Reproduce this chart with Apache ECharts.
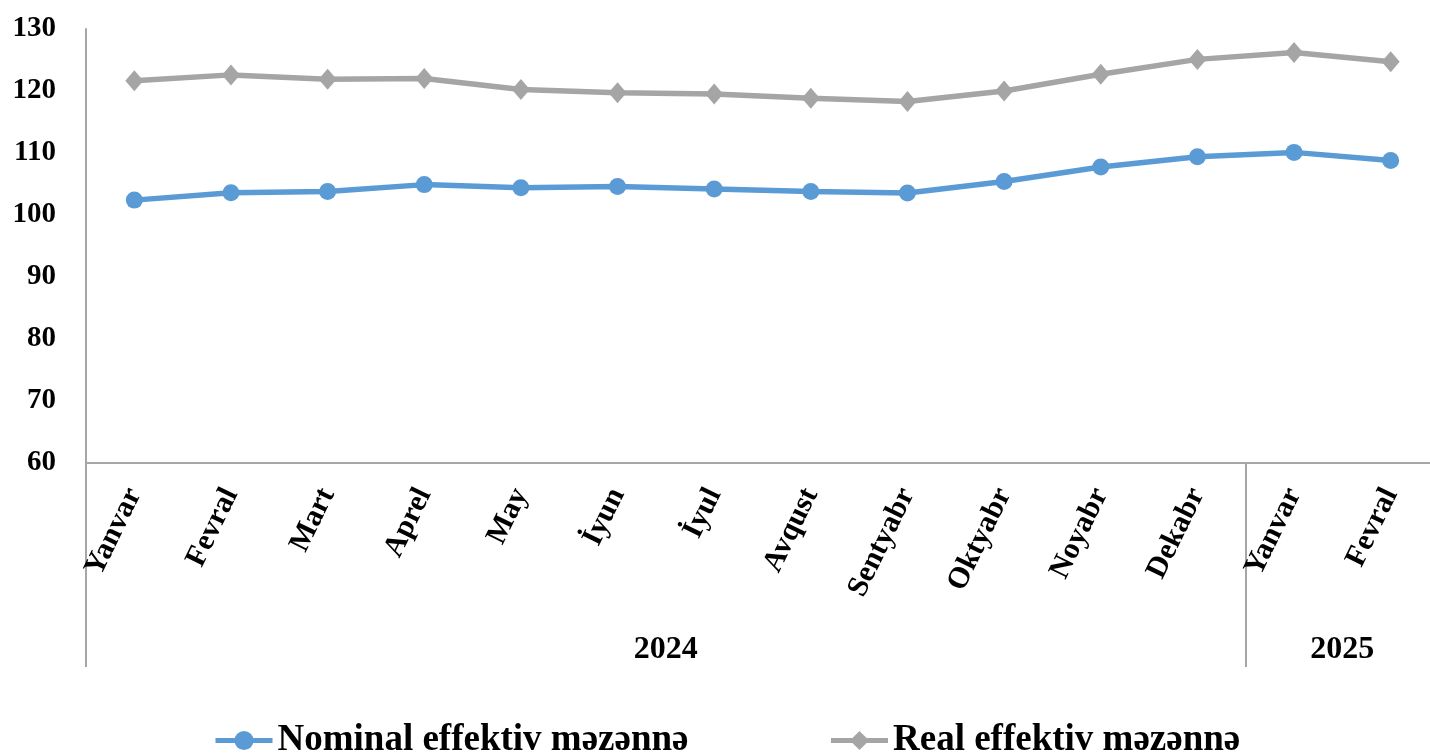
<!DOCTYPE html>
<html>
<head>
<meta charset="utf-8">
<script src="https://cdn.jsdelivr.net/npm/echarts@6/dist/echarts.min.js"></script>
<style>
  html, body { margin: 0; padding: 0; background: #FFFFFF; }
  #chart { width: 1430px; height: 754px; }
</style>
</head>
<body>
<div id="chart"></div>
<script>
  // aylar
  var months = ['Yanvar', 'Fevral', 'Mart', 'Aprel', 'May', 'İyun', 'İyul', 'Avqust',
    'Sentyabr', 'Oktyabr', 'Noyabr', 'Dekabr', 'Yanvar', 'Fevral']
  // illər və hər ildəki ay sayı
  var years = ['2024', '2025']
  var yearSizes = [12, 2]
  var nominal = [102.4, 103.6, 103.8, 104.9, 104.4, 104.6, 104.2, 103.8, 103.55, 105.4, 107.75, 109.4, 110.1, 108.8]
  var real = [121.65, 122.6, 121.9, 122.0, 120.25, 119.7, 119.5, 118.85, 118.3, 120.0, 122.7, 125.1, 126.2, 124.7]
  var yTicks = {min: 60, max: 130, step: 10}

  var font = '"Liberation Serif", "Times New Roman", serif'
  var axisGray = '#A6A6A6'

  // qrup sərhədləri və mərkəzləri
  var bounds = [0], centers = []
  var acc = 0
  yearSizes.forEach(function (n) {
    centers.push(acc + n / 2)
    acc += n
    bounds.push(acc)
  })

  var chart = echarts.init(document.getElementById('chart'))
  chart.setOption({
    animation: false,
    grid: {left: 86, right: -9, top: 29, bottom: 291, containLabel: false, outerBoundsMode: 'none'},
    legend: {
      left: 213,
      top: 722,
      padding: 0,
      itemGap: 140,
      itemWidth: 57,
      itemHeight: 24,
      lineStyle: {width: 5},
      textStyle: {fontFamily: font, fontWeight: 'bold', fontSize: 37, color: '#000'},
      data: ['Nominal effektiv məzənnə', 'Real effektiv məzənnə']
    },
    xAxis: [{
      type: 'category',
      data: months,
      boundaryGap: true,
      axisLine: {show: true, lineStyle: {color: axisGray, width: 2}},
      axisTick: {show: false},
      axisLabel: {
        interval: 0,
        rotate: 64,
        margin: 27,
        fontFamily: font,
        fontWeight: 'bold',
        fontSize: 30,
        color: '#000'
      }
    }, {
      // il qrupları
      type: 'value',
      position: 'bottom',
      min: 0,
      max: months.length,
      axisLine: {show: false},
      splitLine: {show: false},
      axisTick: {
        show: true,
        length: 204,
        customValues: bounds,
        lineStyle: {color: axisGray, width: 2}
      },
      axisLabel: {
        customValues: centers,
        margin: 171,
        fontFamily: font,
        fontWeight: 'bold',
        fontSize: 32,
        color: '#000',
        formatter: function (v) {
          var i = centers.indexOf(v)
          return i >= 0 ? years[i] : ''
        }
      }
    }],
    yAxis: {
      type: 'value',
      min: yTicks.min,
      max: yTicks.max,
      interval: yTicks.step,
      axisLine: {show: true, lineStyle: {color: axisGray, width: 2}},
      axisTick: {show: false},
      splitLine: {show: false},
      axisLabel: {
        margin: 30,
        fontFamily: font,
        fontWeight: 'bold',
        fontSize: 29,
        color: '#000'
      }
    },
    series: [{
      name: 'Nominal effektiv məzənnə',
      type: 'line',
      data: nominal,
      symbol: 'circle',
      symbolSize: 17,
      lineStyle: {color: '#5B9BD5', width: 5.5},
      itemStyle: {color: '#5B9BD5'}
    }, {
      name: 'Real effektiv məzənnə',
      type: 'line',
      data: real,
      symbol: 'diamond',
      symbolSize: [18, 21],
      lineStyle: {color: '#A5A5A5', width: 5.5},
      itemStyle: {color: '#A5A5A5'}
    }]
  })
</script>
</body>
</html>
